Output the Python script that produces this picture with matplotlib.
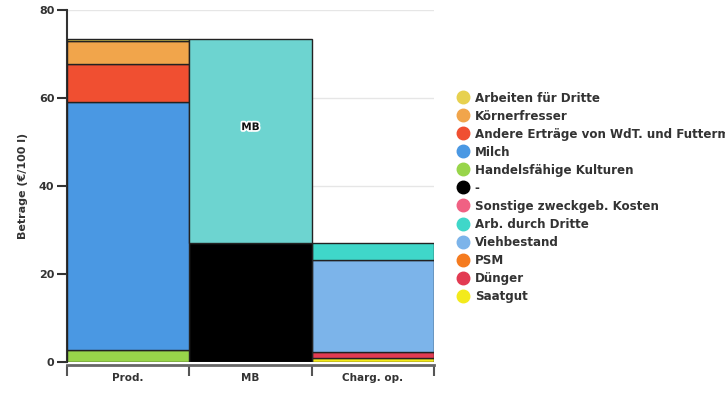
import numpy as np
import matplotlib.pyplot as plt
from matplotlib.lines import Line2D
import matplotlib.patheffects as pe

categories = ['Prod.', 'MB', 'Charg. op.']

# stack order bottom -> top
series_names = ['Saatgut', 'Dünger', 'PSM', 'Viehbestand', 'Arb. durch Dritte',
                'Sonstige zweckgeb. Kosten', '-', 'Handelsfähige Kulturen', 'Milch',
                'Andere Erträge von WdT. und Futterm.', 'Körnerfresser',
                'Arbeiten für Dritte']
series_colors = ['#f3ea1c', '#e23b52', '#f57b1f', '#7cb4ea', '#3fd7c9',
                 '#f06183', '#000000', '#98d54a', '#4a98e3',
                 '#f04f31', '#f1a54b', '#e7d14f']
series_values = [
    [0.0, 0.0, 0.8],    # Saatgut
    [0.0, 0.0, 1.4],    # Dünger
    [0.0, 0.0, 0.0],    # PSM
    [0.0, 0.0, 20.9],   # Viehbestand
    [0.0, 0.0, 3.9],    # Arb. durch Dritte
    [0.0, 0.0, 0.0],    # Sonstige zweckgeb. Kosten
    [0.0, 27.0, 0.0],   # -
    [2.7, 0.0, 0.0],    # Handelsfähige Kulturen
    [56.4, 0.0, 0.0],   # Milch
    [8.6, 0.0, 0.0],    # Andere Erträge
    [5.3, 0.0, 0.0],    # Körnerfresser
    [0.3, 0.0, 0.0],    # Arbeiten für Dritte
]
mb_value = [0.0, 46.3, 0.0]
mb_color = '#6dd4d0'

plt.rcParams['font.family'] = 'DejaVu Sans'
plt.rcParams['font.weight'] = 'bold'

fig = plt.figure(figsize=(7.25, 4), dpi=100)
ax = fig.add_axes([0.0924, 0.095, 0.5062, 0.88])

x = np.arange(len(categories))
bottom = np.zeros(len(categories))
for name, col, vals in zip(series_names, series_colors, series_values):
    vals = np.array(vals)
    mask = vals > 0
    ax.bar(x[mask], vals[mask], width=1.0, bottom=bottom[mask], color=col,
           edgecolor='#222222', linewidth=1.0, zorder=3)
    bottom += vals

mb = np.array(mb_value)
ax.bar(x[1], mb[1], width=1.0, bottom=bottom[1], color=mb_color,
       edgecolor='#222222', linewidth=1.0, zorder=3)
ax.text(x[1], bottom[1] + mb[1] * 0.57, 'MB', ha='center', va='center',
        fontsize=7.5, fontweight='bold', color='#111111', zorder=4,
        path_effects=[pe.withStroke(linewidth=2.5, foreground='white')])

ax.set_xlim(-0.5, 2.5)
ax.set_ylim(0, 80)
ax.set_yticks([0, 20, 40, 60, 80])
ax.set_xticks(x)
ax.set_xticklabels(categories)
ax.set_xticks([-0.5, 0.5, 1.5, 2.5], minor=True)
ax.tick_params(axis='x', which='major', length=0, pad=6, labelsize=7.5, colors='#333333')
ax.tick_params(axis='x', which='minor', length=8, width=1.5, color='#555555')
ax.tick_params(axis='y', length=7, width=1.5, color='#333333', labelsize=8,
               labelcolor='#333333', pad=2)
ax.set_ylabel('Betrage (€/100 l)', fontsize=8, fontweight='bold', color='#333333',
              labelpad=8)

ax.grid(axis='y', color='#e6e6e6', linewidth=1, zorder=0)
ax.set_axisbelow(True)
for s in ['top', 'right']:
    ax.spines[s].set_visible(False)
ax.spines['left'].set_color('#333333')
ax.spines['left'].set_linewidth(1.5)
ax.spines['bottom'].set_color('#666666')
ax.spines['bottom'].set_linewidth(2)
ax.spines['bottom'].set_position(('outward', 2))

handles = [Line2D([], [], marker='o', linestyle='', markersize=9,
                  markerfacecolor=c, markeredgecolor=c)
           for c in series_colors[::-1]]
leg = fig.legend(handles, series_names[::-1], loc='upper left',
                 bbox_to_anchor=(0.622, 0.783), frameon=False,
                 prop={'size': 8.6, 'weight': 'bold'}, labelspacing=0.42,
                 handletextpad=0.4, handlelength=1.2, borderaxespad=0)
for t in leg.get_texts():
    t.set_color('#333333')

fig.savefig('out.png', dpi=100)
